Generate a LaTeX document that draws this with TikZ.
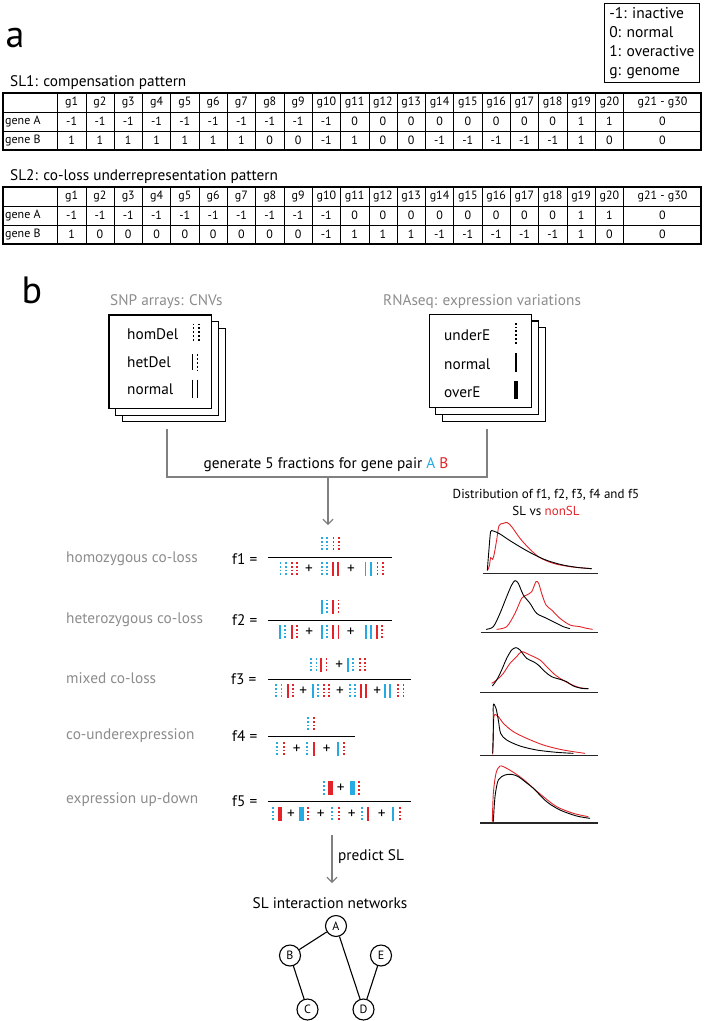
\documentclass[tikz,border=0pt]{standalone}
\usepackage{fontspec}
\setmainfont{PT Sans}
\usetikzlibrary{arrows.meta,shadows}
\definecolor{geneA}{RGB}{39,170,225}
\definecolor{geneB}{RGB}{226,35,41}
\definecolor{lblgray}{RGB}{140,140,140}
\definecolor{flowgray}{RGB}{128,128,128}
\tikzset{
  symw/.style={line width=1.8pt},
  dotline/.style={dash pattern=on 1.8pt off 2pt},
  hom/.pic={\draw[symw,dotline] (-2.6,-7) -- (-2.6,7) (2.6,-7) -- (2.6,7);},
  het/.pic={\draw[symw] (-2.6,-7) -- (-2.6,7); \draw[symw,dotline] (2.6,-7) -- (2.6,7);},
  nrm/.pic={\draw[symw] (-2.6,-7) -- (-2.6,7) (2.6,-7) -- (2.6,7);},
  und/.pic={\draw[symw,dotline] (0,-7) -- (0,7);},
  one/.pic={\draw[symw] (0,-7) -- (0,7);},
  ovr/.pic={\fill (-2.4,-7) rectangle (2.4,7);}
}
\newcommand\genevals[2]{%
  \foreach \v [count=\k] in {#2} {%
    \pgfmathsetmacro\cx{\k<21 ? 43.35+28.3*\k : 662.5}%
    \node[cell] at (\cx,#1) {\v};}}
\begin{document}
\begin{tikzpicture}[x=1pt,y=-1pt,
  cell/.style={font=\fontsize{12}{13}\selectfont,inner sep=0pt},
  txt/.style={font=\fontsize{15.3}{18}\selectfont,inner sep=0pt},
  lbl/.style={txt,text=lblgray,anchor=west},
  stack/.style={draw,line width=1.1pt,fill=white,minimum width=102.7pt,minimum height=93.4pt,
    double copy shadow={shadow xshift=6.7pt,shadow yshift=-6.7pt}},
  flow/.style={draw=flowgray,line width=1.2pt},
  sl/.style={line width=0.9pt,black},
  nonsl/.style={line width=0.9pt,geneB},
  axis/.style={line width=1.6pt,black!85},
  gene/.style={circle,draw,line width=1.1pt,minimum size=21pt,inner sep=0pt,font=\fontsize{12}{13}\selectfont}]
\useasboundingbox (0,0) rectangle (704,1021);

% panel a
\node[font=\fontsize{38}{40}\selectfont] (pa) at (15,38) {a};
\node[draw,line width=1.1pt,align=left,anchor=north east,inner xsep=5pt,inner ysep=4pt,
  font=\fontsize{15.5}{19}\selectfont] (legend) at (700,3) {-1: inactive\\0: normal\\1: overactive\\g: genome};
\node[txt,anchor=west] (sl1) at (10,83) {SL1: compensation pattern};
\node[txt,anchor=west] (sl2) at (10,177) {SL2: co-loss underrepresentation pattern};

\foreach \t in {93,187} {
  \draw[line width=0.6pt] (3,\t+19) -- (701,\t+19) (3,\t+38) -- (701,\t+38);
  \foreach \k in {0,...,20} \draw[line width=0.6pt] (57.5+28.3*\k,\t) -- (57.5+28.3*\k,\t+57);
  \draw[line width=1.2pt] (3,\t) rectangle (701,\t+57);
  \foreach \k in {1,...,20} \node[cell] at (43.35+28.3*\k,\t+9.5) {g\k};
  \node[cell] at (662.5,\t+9.5) {g21 - g30};
  \node[cell,anchor=west] at (5,\t+28.5) {gene A};
  \node[cell,anchor=west] at (5,\t+47.5) {gene B};
}
\genevals{121.5}{-1,-1,-1,-1,-1,-1,-1,-1,-1,-1,0,0,0,0,0,0,0,0,1,1,0}
\genevals{140.5}{1,1,1,1,1,1,1,0,0,-1,1,0,0,-1,-1,-1,-1,-1,1,0,0}
\genevals{215.5}{-1,-1,-1,-1,-1,-1,-1,-1,-1,-1,0,0,0,0,0,0,0,0,1,1,0}
\genevals{234.5}{1,0,0,0,0,0,0,0,0,-1,1,1,1,-1,-1,-1,-1,-1,1,0,0}

% panel b
\node[font=\fontsize{38}{40}\selectfont] (pb) at (32,290) {b};
\node[lbl] (snptitle) at (110,302) {SNP arrays: CNVs};
\node[lbl] (rnatitle) at (383,302) {RNAseq: expression variations};

\node[stack] (snp) at (160.3,361.7) {};
\node[txt,anchor=west] (homdel) at (127,334) {homDel};
\node[txt,anchor=west] (hetdel) at (127,362) {hetDel};
\node[txt,anchor=west] (normcnv) at (127,389) {normal};
\pic[yscale=1.35,symw/.style={line width=1.3pt}] at (196.3,333) {hom};
\pic[yscale=1.1,symw/.style={line width=1.3pt}] at (195,362) {het};
\pic[yscale=1.35,symw/.style={line width=1.3pt}] at (195,389) {nrm};

\node[stack] (rna) at (480.5,361) {};
\node[txt,anchor=west] (undere) at (444,335) {underE};
\node[txt,anchor=west] (normexp) at (444,364) {normal};
\node[txt,anchor=west] (overe) at (444,392) {overE};
\pic[yscale=1.6,symw/.style={line width=1.3pt}] at (516,334) {und};
\pic[yscale=1.35,symw/.style={line width=1.1pt}] at (516,362.5) {one};
\pic[yscale=1.35] at (516,390) {ovr};

\coordinate (snpout) at (167,429);
\coordinate (rnaout) at (487,429);
\coordinate (split) at (328,477);
\coordinate (fracin) at (328,525);
\draw[flow] (snpout) |- (split) -| (rnaout);
\draw[flow,-{Straight Barb[length=5pt,width=10pt]}] (split) -- (fracin);
\node[txt] (gen) at (326,465) {generate 5 fractions for gene pair \textcolor{geneA}{A} \textcolor{geneB}{B}};

% f1
\node[lbl] (l1) at (66,559) {homozygous co-loss};
\node[txt,anchor=west] (f1) at (232,559) {f1 =};
\draw[line width=1pt] (268,557.5) -- (392,557.5);
\pic[geneA] at (324.5,544) {hom}; \pic[geneB] at (336,544) {hom};
\pic[geneA] at (283,569) {hom}; \pic[geneB] at (294.5,569) {hom};
\node[txt] at (309,569) {+};
\pic[geneA] at (324.5,569) {hom}; \pic[geneB] at (335.5,569) {nrm};
\node[txt] at (351,569) {+};
\pic[geneA] at (368,569) {nrm}; \pic[geneB] at (380,569) {hom};

% f2
\node[lbl] (l2) at (66,620) {heterozygous co-loss};
\node[txt,anchor=west] (f2) at (232,620) {f2 =};
\draw[line width=1pt] (268,620.5) -- (392,620.5);
\pic[geneA] at (324.2,606.5) {het}; \pic[geneB] at (335.8,606.5) {het};
\pic[geneA] at (282.5,632) {het}; \pic[geneB] at (294.2,632) {het};
\node[txt] at (309.3,632) {+};
\pic[geneA] at (324.2,632) {het}; \pic[geneB] at (335.8,632) {nrm};
\node[txt] at (350.7,632) {+};
\pic[geneA] at (368.3,632) {nrm}; \pic[geneB] at (379.2,632) {het};

% f3
\node[lbl] (l3) at (66,678) {mixed co-loss};
\node[txt,anchor=west] (f3) at (231,679) {f3 =};
\draw[line width=1pt] (268,679) -- (411,679);
\pic[geneA] at (313.8,665) {hom}; \pic[geneB] at (323.8,665) {het};
\node[txt] at (339.3,665) {+};
\pic[geneA] at (350.5,665) {het}; \pic[geneB] at (362.2,665) {hom};
\pic[geneA] at (278.8,691) {hom}; \pic[geneB] at (290.5,691) {het};
\node[txt] at (303.3,691) {+};
\pic[geneA] at (315.5,691) {het}; \pic[geneB] at (326.2,691) {hom};
\node[txt] at (340,691) {+};
\pic[geneA] at (352.2,691) {hom}; \pic[geneB] at (363.5,691) {nrm};
\node[txt] at (377.3,691) {+};
\pic[geneA] at (387.5,691) {nrm}; \pic[geneB] at (400.8,691) {hom};

% f4
\node[lbl] (l4) at (66,736) {co-underexpression};
\node[txt,anchor=west] (f4) at (232,736) {f4 =};
\draw[line width=1pt] (268,736.5) -- (355,736.5);
\pic[geneA] at (308.3,724) {und}; \pic[geneB] at (314.3,724) {und};
\pic[geneA] at (277.3,749) {und}; \pic[geneB] at (284,749) {und};
\node[txt] at (296.7,749) {+};
\pic[geneA] at (307.3,749) {und}; \pic[geneB] at (314,749) {one};
\node[txt] at (326.7,749) {+};
\pic[geneA] at (337.7,749) {one}; \pic[geneB] at (344.3,749) {und};

% f5
\node[lbl] (l5) at (66,800) {expression up-down};
\node[txt,anchor=west] (f5) at (232,801) {f5 =};
\draw[line width=1pt] (268,801.5) -- (411,801.5);
\pic[geneA] at (324,788.3) {und}; \pic[geneB] at (330.5,788.3) {ovr};
\node[txt] at (340.7,788.3) {+};
\pic[geneA] at (352.2,788.3) {ovr}; \pic[geneB] at (359,788.3) {und};
\pic[geneA] at (273.3,814) {und}; \pic[geneB] at (280,814) {ovr};
\node[txt] at (291,814) {+};
\pic[geneA] at (301.8,814) {ovr}; \pic[geneB] at (308.3,814) {und};
\node[txt] at (320.7,814) {+};
\pic[geneA] at (332.3,814) {und}; \pic[geneB] at (339,814) {und};
\node[txt] at (351.7,814) {+};
\pic[geneA] at (361.7,814) {und}; \pic[geneB] at (368.3,814) {one};
\node[txt] at (381.7,814) {+};
\pic[geneA] at (393.3,814) {one}; \pic[geneB] at (400,814) {und};

% distributions
\node[font=\fontsize{13}{17}\selectfont,align=center] (dist) at (546,502)
  {Distribution of f1, f2, f3, f4 and f5\\SL vs \textcolor{geneB}{nonSL}};
\begin{scope}[xshift=460pt,yshift=-460pt,scale=1/3]
\draw[axis] (68,340) -- (415,340);
\draw[nonsl] plot[smooth,tension=0.5] coordinates {(82,332) (88,318) (92,293) (98,298) (103,280) (110,240) (117,197) (130,190) (142,188) (155,200) (180,235) (210,268) (240,293) (280,310) (330,320) (395,326)};
\draw[sl] plot[smooth,tension=0.5] coordinates {(82,330) (88,255) (92,215) (100,213) (120,222) (150,242) (200,272) (250,297) (300,313) (350,322) (395,326)};
\draw[axis] (62,518) -- (415,518);
\draw[nonsl] plot[smooth,tension=0.5] coordinates {(110,508) (140,500) (165,460) (185,415) (200,405) (215,395) (228,365) (236,370) (245,400) (258,435) (275,450) (300,475) (330,495) (360,500) (380,505) (398,508)};
\draw[sl] plot[smooth,tension=0.5] coordinates {(78,508) (100,500) (120,460) (140,410) (155,375) (165,362) (175,370) (190,405) (210,430) (230,460) (260,475) (290,490) (310,500) (330,506)};
\draw[axis] (60,697) -- (415,697);
\draw[nonsl] plot[smooth,tension=0.5] coordinates {(95,670) (110,660) (130,640) (150,610) (170,590) (185,575) (210,585) (240,600) (260,620) (280,640) (300,655) (330,672) (360,683) (385,686)};
\draw[sl] plot[smooth,tension=0.5] coordinates {(97,678) (110,660) (125,630) (140,595) (155,570) (168,563) (180,570) (200,595) (220,605) (235,615) (255,635) (275,650) (300,658) (320,665) (340,678) (365,685) (385,686)};
\draw[axis] (60,887) -- (415,887);
\draw[nonsl] plot[smooth,tension=0.5] coordinates {(98,883) (100,840) (102,768) (115,770) (130,790) (160,815) (200,835) (250,855) (300,868) (340,875) (375,880)};
\draw[sl] plot[smooth,tension=0.5] coordinates {(98,880) (100,800) (100,735) (108,745) (115,780) (122,820) (140,840) (180,858) (230,870) (290,877) (340,880)};
\draw[axis] (60,1089) -- (415,1089);
\draw[nonsl] plot[smooth,tension=0.5] coordinates {(97,1085) (100,1000) (108,940) (120,918) (140,925) (165,940) (190,958) (215,980) (250,1010) (290,1040) (340,1060) (385,1070)};
\draw[sl] plot[smooth,tension=0.5] coordinates {(100,1085) (105,1010) (115,960) (135,945) (155,943) (175,950) (195,965) (220,985) (260,1025) (300,1050) (350,1068) (390,1075)};
\end{scope}

% prediction
\coordinate (predin) at (332,835);
\coordinate (predout) at (332,883);
\draw[flow,-{Straight Barb[length=5pt,width=10pt]}] (predin) -- (predout);
\node[txt,anchor=west] (pred) at (338,857) {predict SL};
\node[txt] (net) at (330,903) {SL interaction networks};
\node[gene] (A) at (336,926) {A};
\node[gene] (B) at (290,955.5) {B};
\node[gene] (E) at (381,955.5) {E};
\node[gene] (C) at (307.5,1009.5) {C};
\node[gene] (D) at (363.5,1009.5) {D};
\draw[line width=1.1pt] (A) -- (B) (A) -- (D) (B) -- (C) (E) -- (D);
\end{tikzpicture}
\end{document}
